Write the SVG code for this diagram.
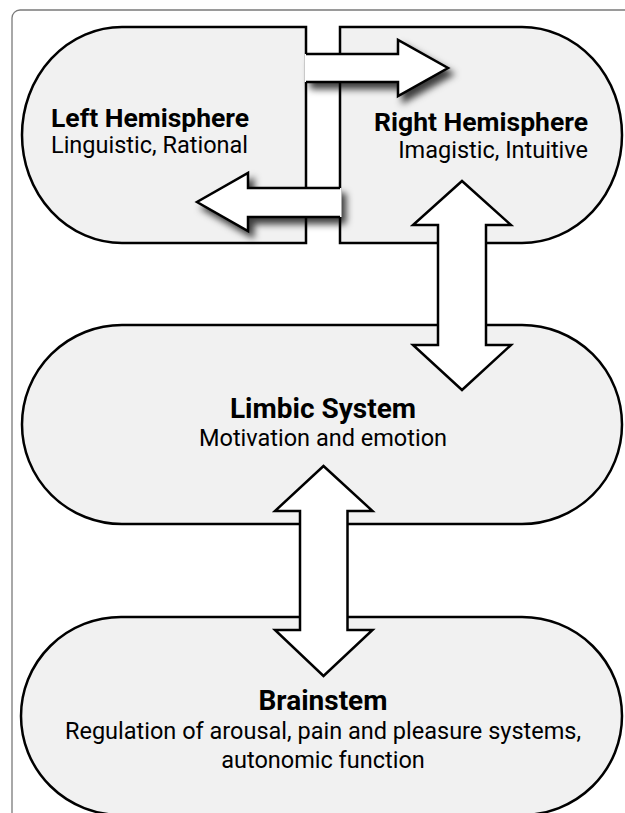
<svg xmlns="http://www.w3.org/2000/svg" width="625" height="813" viewBox="0 0 625 813">
  <defs>
    <filter id="shadow" x="-20%" y="-30%" width="150%" height="180%">
      <feGaussianBlur in="SourceAlpha" stdDeviation="3.5"/>
      <feOffset dx="5" dy="6" result="b"/>
      <feFlood flood-color="#000" flood-opacity="0.75"/>
      <feComposite in2="b" operator="in"/>
      <feMerge><feMergeNode/><feMergeNode in="SourceGraphic"/></feMerge>
    </filter>
  </defs>
  <style>
    .pill { fill: #f1f1f1; stroke: #000; stroke-width: 2.5; }
    .afill { fill: #fff; stroke: none; }
    .astroke { fill: none; stroke: #000; stroke-width: 2.5; stroke-linejoin: miter; }
    .arrow { fill: #fff; stroke: #000; stroke-width: 2.5; stroke-linejoin: miter; }
    .title { font-family: Roboto, "Liberation Sans", sans-serif; font-weight: 700; font-size: 26.5px; fill: #000; }
    .title2 { font-family: Roboto, "Liberation Sans", sans-serif; font-weight: 700; font-size: 28px; fill: #000; }
    .sub { font-family: Roboto, "Liberation Sans", sans-serif; font-weight: 400; font-size: 23.5px; fill: #000; }
  </style>
  <rect x="12" y="10" width="700" height="900" rx="8" fill="#fff" stroke="#7a7a7a" stroke-width="1.3"/>

  <g id="node-left-hemisphere">
    <path class="pill" d="M306,27 L122,27 A100,108 0 0 0 122,243 L306,243 Z"/>
    <text class="title" x="51" y="127">Left Hemisphere</text>
    <text class="sub" x="51" y="153">Linguistic, Rational</text>
  </g>
  <g id="node-right-hemisphere">
    <path class="pill" d="M340,27 L522,27 A100,108 0 0 1 522,243 L340,243 Z"/>
    <text class="title" x="588" y="131" text-anchor="end">Right Hemisphere</text>
    <text class="sub" x="588" y="158" text-anchor="end">Imagistic, Intuitive</text>
  </g>
  <g id="node-limbic">
    <rect class="pill" x="22" y="325" width="600" height="199" rx="100" ry="99.5"/>
    <text class="title2" x="323" y="418" text-anchor="middle">Limbic System</text>
    <text class="sub" x="323" y="446" text-anchor="middle">Motivation and emotion</text>
  </g>
  <g id="node-brainstem">
    <rect class="pill" x="21" y="617" width="601" height="198" rx="100" ry="99"/>
    <text class="title2" x="323" y="710" text-anchor="middle">Brainstem</text>
    <text class="sub" x="323" y="739" text-anchor="middle">Regulation of arousal, pain and pleasure systems,</text>
    <text class="sub" x="323" y="768" text-anchor="middle">autonomic function</text>
  </g>

  <g id="connectors">
    <g id="arrow-left-to-right" filter="url(#shadow)">
      <polygon class="afill" points="304.7,54 398,54 398,40 448,68 398,96 398,82 304.7,82"/>
      <polyline class="astroke" points="306,54 398,54 398,40 448,68 398,96 398,82 306,82"/>
    </g>
    <g id="arrow-right-to-left" filter="url(#shadow)">
      <polygon class="afill" points="341.3,188 248,188 248,173 197,202 248,231 248,217 341.3,217"/>
      <polyline class="astroke" points="340,188 248,188 248,173 197,202 248,231 248,217 340,217"/>
    </g>
    <polygon id="arrow-right-limbic" class="arrow" points="462,181 511,225 486,225 486,345 511,345 462,390 413,345 438,345 438,225 413,225"/>
    <polygon id="arrow-limbic-brainstem" class="arrow" points="323.5,466 372.5,511 347.5,511 347.5,630 372.5,630 323.5,676 275,630 300,630 300,511 275,511"/>
  </g>
</svg>
